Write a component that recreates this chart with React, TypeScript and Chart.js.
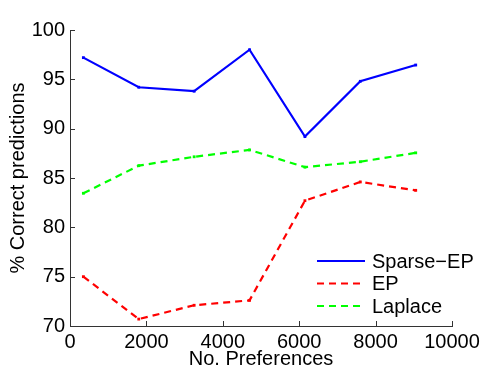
import React, { useEffect, useRef } from "react";
import { Chart, registerables } from "chart.js";

Chart.register(...registerables);

const xValues = [350, 1800, 3250, 4700, 6150, 7600, 9050];
const sparseEP = [97.2, 94.2, 93.8, 98.0, 89.2, 94.8, 96.45];
const ep = [75.0, 70.7, 72.1, 72.6, 82.7, 84.6, 83.75];
const laplace = [83.45, 86.25, 87.15, 87.85, 86.1, 86.65, 87.55];
const seriesNames = ["Sparse\u2212EP", "EP", "Laplace"];
const xTitle = "No. Preferences";
const yTitle = "% Correct predictions";

const FONT = "'Liberation Sans', Arial, Helvetica, sans-serif";
const FS = 20;

const innerTicks = {
  id: "innerTicks",
  afterDraw(chart: any) {
    const { ctx, chartArea } = chart;
    const xs = chart.scales.x;
    const ys = chart.scales.y;
    ctx.save();
    ctx.strokeStyle = "#333";
    ctx.lineWidth = 1;
    ctx.beginPath();
    xs.ticks.forEach((t: any) => {
      const px = Math.round(xs.getPixelForValue(t.value)) + 0.5;
      ctx.moveTo(px, chartArea.bottom);
      ctx.lineTo(px, chartArea.bottom - 5);
    });
    ys.ticks.forEach((t: any) => {
      const py = Math.round(ys.getPixelForValue(t.value)) + 0.5;
      ctx.moveTo(chartArea.left, py);
      ctx.lineTo(chartArea.left + 5, py);
    });
    ctx.stroke();
    ctx.restore();
  },
};

const innerLegend = {
  id: "innerLegend",
  afterDraw(chart: any) {
    const { ctx, chartArea } = chart;
    const x0 = chartArea.right - 135;
    const x1 = chartArea.right - 87;
    const tx = chartArea.right - 80;
    const rows = [chartArea.bottom - 65, chartArea.bottom - 42.5, chartArea.bottom - 20];
    ctx.save();
    ctx.font = `${FS}px ${FONT}`;
    ctx.textBaseline = "middle";
    ctx.textAlign = "left";
    chart.data.datasets.forEach((ds: any, i: number) => {
      const y = rows[i];
      ctx.strokeStyle = ds.borderColor;
      ctx.lineWidth = ds.borderWidth;
      ctx.setLineDash(ds.borderDash || []);
      ctx.beginPath();
      ctx.moveTo(x0, y);
      ctx.lineTo(x1, y);
      ctx.stroke();
      ctx.setLineDash([]);
      ctx.fillStyle = "#000";
      ctx.fillText(ds.label, tx, y + 1);
    });
    ctx.restore();
  },
};

export default function App() {
  const ref = useRef<HTMLCanvasElement | null>(null);
  useEffect(() => {
    if (!ref.current) return;
    const mk = (vals: number[]) => vals.map((v, i) => ({ x: xValues[i], y: v }));
    const chart = new Chart(ref.current, {
      type: "line",
      data: {
        datasets: [
          {
            label: seriesNames[0],
            data: mk(sparseEP),
            borderColor: "#0000ff",
            backgroundColor: "#0000ff",
            borderWidth: 2.2,
            pointStyle: "rect",
            pointRadius: 2,
            pointBorderWidth: 0,
            tension: 0,
          },
          {
            label: seriesNames[1],
            data: mk(ep),
            borderColor: "#ff0000",
            backgroundColor: "#ff0000",
            borderWidth: 2.2,
            borderDash: [7, 5],
            pointStyle: "rect",
            pointRadius: 2,
            pointBorderWidth: 0,
            tension: 0,
          },
          {
            label: seriesNames[2],
            data: mk(laplace),
            borderColor: "#00ff00",
            backgroundColor: "#00ff00",
            borderWidth: 2.2,
            borderDash: [7, 5],
            pointStyle: "rect",
            pointRadius: 2,
            pointBorderWidth: 0,
            tension: 0,
          },
        ],
      },
      options: {
        animation: false,
        responsive: false,
        layout: { padding: { top: 30, right: 30, left: 0, bottom: 0 } },
        plugins: { legend: { display: false }, tooltip: { enabled: false } },
        scales: {
          x: {
            type: "linear",
            min: 0,
            max: 10000,
            grid: { display: false, drawTicks: false },
            border: { display: true, color: "#333", width: 1 },
            ticks: {
              stepSize: 2000,
              color: "#000",
              padding: 4,
              maxRotation: 0,
              font: { family: FONT, size: FS },
              callback: (v: any) => String(v),
            },
            title: {
              display: true,
              text: xTitle,
              color: "#000",
              padding: { top: 0, bottom: 0 },
              font: { family: FONT, size: FS, lineHeight: 0.9 },
            },
            afterFit(scale: any) {
              scale.height = 42;
              scale.paddingLeft = 0;
              scale.paddingRight = 0;
            },
          },
          y: {
            type: "linear",
            min: 70,
            max: 100,
            grid: { display: false, drawTicks: false },
            border: { display: true, color: "#333", width: 1 },
            ticks: {
              stepSize: 5,
              color: "#000",
              padding: 5,
              font: { family: FONT, size: FS },
              callback: (v: any) => String(v),
            },
            title: {
              display: true,
              text: yTitle,
              color: "#000",
              padding: { top: 6, bottom: 0 },
              font: { family: FONT, size: FS },
            },
            afterFit(scale: any) {
              scale.width = 70;
              scale.paddingTop = 0;
              scale.paddingBottom = 0;
            },
          },
        },
      },
      plugins: [innerTicks, innerLegend],
    });
    return () => chart.destroy();
  }, []);
  return (
    <div style={{ position: "fixed", left: 0, top: 0, width: 482, height: 368, background: "#fff" }}>
      <canvas ref={ref} width={482} height={368} />
    </div>
  );
}
